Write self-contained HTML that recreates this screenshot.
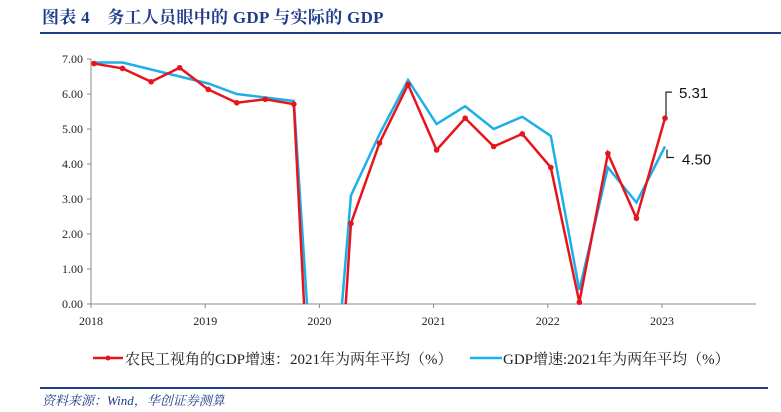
<!DOCTYPE html>
<html><head><meta charset="utf-8"><style>
html,body{margin:0;width:781px;height:412px;overflow:hidden}
body{background:#fff;position:relative;font-family:"Liberation Serif","Noto Serif CJK SC",serif}
#title{position:absolute;left:42px;top:7px;font-size:17px;line-height:22px;height:22px;overflow:hidden;font-weight:bold;color:#1f3c88;letter-spacing:0.3px}
#tline{position:absolute;left:40px;top:32px;width:741px;height:2px;background:#1f3c88}
#fline{position:absolute;left:40px;top:387px;width:728px;height:2px;background:#1f3c88}
#foot{position:absolute;left:42px;top:392px;height:17px;overflow:hidden;font-size:13px;line-height:17px;font-style:italic;color:#1f3c88}
</style></head><body>
<div id="title">图表 4　务工人员眼中的 GDP 与实际的 GDP</div>
<div id="tline"></div>
<svg id="chart" width="781" height="412" style="position:absolute;left:0;top:0;display:block;overflow:hidden"></svg>
<div id="fline"></div>
<div id="foot">资料来源：Wind，华创证券测算</div>
<script>
const yearLabels=["2018","2019","2020","2021","2022","2023"];
const yTicks=[0,1,2,3,4,5,6,7];
const redValues=[6.87,6.73,6.35,6.75,6.13,5.75,5.85,5.71,-10.3,2.3,4.6,6.27,4.4,5.31,4.5,4.86,3.9,0.05,4.3,2.45,5.31];
const blueValues=[6.9,6.9,6.7,6.5,6.3,6.0,5.9,5.8,-6.8,3.1,4.85,6.4,5.14,5.65,5.0,5.35,4.8,0.4,3.9,2.9,4.5];
const NS="http://www.w3.org/2000/svg";
const svg=document.getElementById('chart');
const x0=91,yrW=114.2,y0=304,yU=35;
const xq=i=>x0+3+i*yrW/4;
const yv=v=>y0-v*yU;
function mk(t,a,p){const e=document.createElementNS(NS,t);for(const k in a)e.setAttribute(k,a[k]);(p||svg).appendChild(e);return e;}
function pathD(vals){
  let d='',pen=false;
  for(let i=0;i<vals.length;i++){
    const v=vals[i];
    if(i>0){const p=vals[i-1];
      if((p>=0)!==(v>=0)){const f=p/(p-v);const xc=xq(i-1)+f*(xq(i)-xq(i-1));
        if(p>=0){d+=` L${xc},${y0}`;pen=false;}else{d+=` M${xc},${y0}`;pen=true;}}}
    if(v>=0){d+=(pen?` L`:` M`)+`${xq(i)},${yv(v)}`;pen=true;}
  }
  return d.trim();
}
let ax=mk('line',{x1:x0,y1:yv(7),x2:x0,y2:y0,stroke:'#888','stroke-width':1});


ax=mk('line',{x1:x0,y1:y0,x2:756,y2:y0,stroke:'#888','stroke-width':1});


yTicks.forEach(v=>{mk('line',{x1:x0-4,y1:yv(v),x2:x0,y2:yv(v),stroke:'#888'});
const t=mk('text',{x:x0-8,y:yv(v)+4,'text-anchor':'end','font-size':12,fill:'#222'});t.textContent=v.toFixed(2);

});
yearLabels.forEach((l,i)=>{const x=x0+i*yrW;mk('line',{x1:x,y1:y0,x2:x,y2:y0+4,stroke:'#888'});
const t=mk('text',{x:x,y:y0+21,'text-anchor':'middle','font-size':12,fill:'#222'});t.textContent=l;

});
const bl=mk('path',{d:pathD(blueValues),fill:'none',stroke:'#1ab0ea','stroke-width':2.5});


const rl=mk('path',{d:pathD(redValues),fill:'none',stroke:'#e8141c','stroke-width':2.5});


redValues.forEach((v,i)=>{if(v<0)return;const c=mk('circle',{cx:xq(i),cy:yv(v),r:2.8,fill:'#e8141c'});

});
const n=redValues.length-1,lx=xq(n);
mk('polyline',{points:`${lx+1},${yv(redValues[n])-2} ${lx+1},${yv(redValues[n])-26} ${lx+7},${yv(redValues[n])-26}`,fill:'none',stroke:'#222','stroke-width':1.2});
let t=mk('text',{x:lx+14,y:yv(redValues[n])-20,'font-size':15,fill:'#111','font-family':'Liberation Sans,sans-serif'});t.textContent=redValues[n].toFixed(2);


mk('polyline',{points:`${lx+2},${yv(blueValues[n])+3} ${lx+2},${yv(blueValues[n])+11} ${lx+9},${yv(blueValues[n])+11}`,fill:'none',stroke:'#222','stroke-width':1.2});
t=mk('text',{x:lx+17,y:yv(blueValues[n])+18,'font-size':15,fill:'#111','font-family':'Liberation Sans,sans-serif'});t.textContent=blueValues[n].toFixed(2);


const lg=mk('g',{});


mk('line',{x1:93,y1:358,x2:123,y2:358,stroke:'#e8141c','stroke-width':2.5},lg);
mk('circle',{cx:108,cy:358,r:2.5,fill:'#e8141c'},lg);
t=mk('text',{x:125,y:364,'font-size':15,fill:'#222'},lg);t.textContent='农民工视角的GDP增速：2021年为两年平均（%）';


mk('line',{x1:470,y1:358,x2:502,y2:358,stroke:'#1ab0ea','stroke-width':2.5},lg);
t=mk('text',{x:503,y:364,'font-size':15,fill:'#222'},lg);t.textContent='GDP增速:2021年为两年平均（%）';


</script>
</body></html>
